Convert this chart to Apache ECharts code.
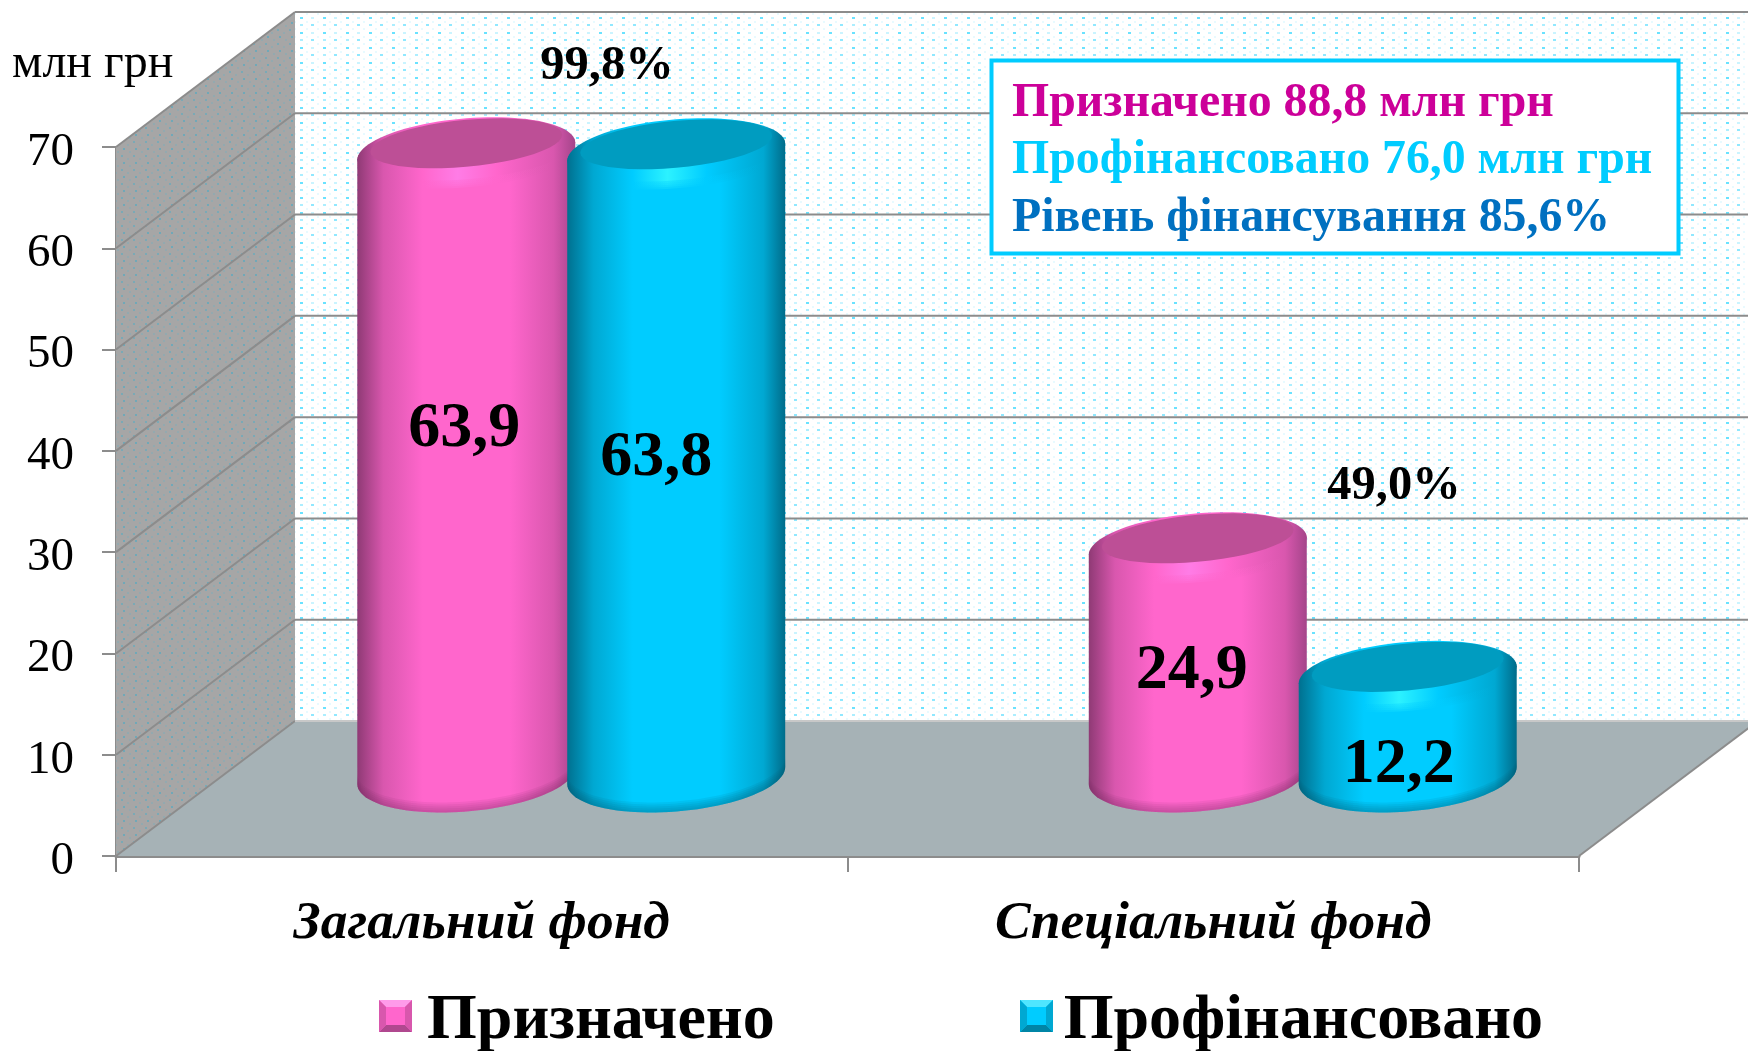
<!DOCTYPE html>
<html>
<head>
<meta charset="utf-8">
<style>
  html, body { margin: 0; padding: 0; background: #fff; }
  #chart { width: 1748px; height: 1051px; }
</style>
</head>
<body>
<div id="chart"></div>
<script src="https://cdn.jsdelivr.net/npm/echarts@6/dist/echarts.min.js"></script>
<script>
var categories = ['Загальний фонд', 'Спеціальний фонд'];
var seriesNames = ['Призначено', 'Профінансовано'];
var planned = [63.9, 24.9];
var funded = [63.8, 12.2];
var yTicks = [0, 10, 20, 30, 40, 50, 60, 70];
var percentLabels = ['99,8%', '49,0%'];
var summaryLines = ['Призначено 88,8 млн грн', 'Профінансовано 76,0 млн грн', 'Рівень фінансування 85,6%'];
var unitLabel = 'млн грн';

var SERIF = '"Liberation Serif", "Times New Roman", serif';
var DEPTH_X = 179;
var DEPTH_Y = 135;
var GRID_LINE = '#8c8c8c';

var pink = {
  main: '#ff66cc', lid: '#bd4f96', light: '#ff7ce6', edgeL: '#8f3a75', edgeR: '#a4458a', mid: '#d957ae', dark: '#7a2a63',
  bevelTop: '#ff9bea', bevelBottom: '#b0488f', bevelSide: '#d857ad'
};
var cyan = {
  main: '#00ccff', lid: '#009cc0', light: '#2cf2ff', edgeL: '#00708f', edgeR: '#006c8a', mid: '#00a8d2', dark: '#005a74',
  bevelTop: '#4fe6ff', bevelBottom: '#0085a6', bevelSide: '#00a8d2'
};

// nudges of the value labels, they were placed by hand in the original
var labelNudge = {
  planned: [[-2, -36], [-6, 8]],
  funded: [[-20, -8], [-9, 38]]
};

function dotPattern(w, h, dots) {
  var c = document.createElement('canvas');
  c.width = w;
  c.height = h;
  var ctx = c.getContext('2d');
  dots.forEach(function(d) {
    ctx.fillStyle = d[3];
    ctx.fillRect(d[0], d[1], d[2], 2);
  });
  return c;
}

var wallPattern = dotPattern(23, 15, [
  [1, 2, 3, '#6ae2ff'], [12, 2, 3, '#caf4ff'],
  [7, 6, 2, '#e8faff'], [18, 6, 2, '#e8faff'],
  [1, 9, 3, '#aceeff'], [12, 9, 3, '#90e8ff'],
  [7, 13, 2, '#e8faff'], [18, 13, 2, '#e8faff']
]);

var sidePattern = dotPattern(12, 14, [
  [1, 1, 2, '#7aa9b6'], [7, 4, 2, '#93a9af'], [3, 8, 2, '#70a8b8'], [9, 11, 2, '#93a9af']
]);

function arc(cx, cy, rx, ry, tilt, from, to) {
  var pts = [];
  for (var i = 0; i <= 48; i++) {
    var t = from + (to - from) * i / 48;
    pts.push([cx + rx * Math.cos(t), cy + ry * Math.sin(t) - tilt * Math.cos(t)]);
  }
  return pts;
}

function poly(points, style, z2) {
  return { type: 'polygon', shape: { points: points }, style: style, z2: z2 || 0, silent: true };
}

function sideGradient(p) {
  return new echarts.graphic.LinearGradient(0, 0, 1, 0, [
    { offset: 0, color: p.edgeL },
    { offset: 0.12, color: p.mid },
    { offset: 0.3, color: p.main },
    { offset: 0.7, color: p.main },
    { offset: 0.9, color: p.mid },
    { offset: 1, color: p.edgeR }
  ]);
}

function rimGradient(p) {
  return new echarts.graphic.LinearGradient(0, 0, 1, 0, [
    { offset: 0, color: p.edgeL },
    { offset: 0.12, color: p.mid },
    { offset: 0.3, color: p.main },
    { offset: 0.46, color: p.light },
    { offset: 0.64, color: p.main },
    { offset: 0.9, color: p.mid },
    { offset: 1, color: p.edgeR }
  ]);
}

function cylinderRenderer(p, side, nudges) {
  return function(params, api) {
    var idx = api.value(0);
    var val = api.value(1);
    var front = api.coord([idx, val]);
    var ground = api.coord([idx, 0]);
    var band = api.size([1, 0])[0];
    var rx = band * 0.149;
    var cx = ground[0] + DEPTH_X / 2 + side * band * 0.1435;
    var topY = front[1] - DEPTH_Y / 2 + 2;
    var baseY = ground[1] - DEPTH_Y / 2;
    var tilt = 8.5;
    var kids = [];

    var lower = arc(cx, baseY - 13, rx, 36, tilt, 0, Math.PI);
    kids.push(poly(arc(cx, topY + 8, rx, 33, tilt, Math.PI, Math.PI * 2).concat(lower), { fill: sideGradient(p) }));

    // darker rounded edge at the foot
    for (var b = 1; b <= 5; b++) {
      var inner = arc(cx, baseY - 13 - b * 2, rx, 36, tilt, 0, Math.PI).reverse();
      kids.push(poly(lower.concat(inner), { fill: p.dark, opacity: 0.09 }));
    }

    // soft rim under the lid
    for (var r = 4; r >= 0; r--) {
      kids.push(poly(arc(cx, topY + 8 + r * 2, rx, 28, tilt, 0, Math.PI * 2), {
        fill: rimGradient(p),
        opacity: r === 0 ? 1 : 0.25
      }));
    }
    kids.push(poly(arc(cx, topY, rx * 0.88, 23.5, tilt, 0, Math.PI * 2), { fill: p.lid }));

    kids.push({
      type: 'text',
      silent: true,
      z2: 5,
      style: {
        text: val.toFixed(1).replace('.', ','),
        x: cx + nudges[idx][0],
        y: (topY + baseY) / 2 + nudges[idx][1],
        fill: '#000',
        font: 'bold 64px ' + SERIF,
        textAlign: 'center',
        textVerticalAlign: 'middle'
      }
    });
    return { type: 'group', children: kids };
  };
}

function renderFrame(params, api) {
  var box = params.coordSys;
  var left = box.x;
  var right = box.x + box.width;
  var bottom = box.y + box.height;
  var y = api.coord([0, api.value(0)])[1];
  var kids = [];
  var lineStyle = { stroke: GRID_LINE, lineWidth: 2 };

  if (params.dataIndex === 0) {
    var top = box.y;
    kids.push(poly([[left + DEPTH_X, top - DEPTH_Y], [right + DEPTH_X, top - DEPTH_Y], [right + DEPTH_X, bottom - DEPTH_Y], [left + DEPTH_X, bottom - DEPTH_Y]],
      { fill: { image: wallPattern, repeat: 'repeat' } }));
    kids.push(poly([[left, top], [left + DEPTH_X, top - DEPTH_Y], [left + DEPTH_X, bottom - DEPTH_Y], [left, bottom]], { fill: '#a6a6a6' }));
    kids.push(poly([[left, top], [left + DEPTH_X, top - DEPTH_Y], [left + DEPTH_X, bottom - DEPTH_Y], [left, bottom]],
      { fill: { image: sidePattern, repeat: 'repeat' } }));
    kids.push(poly([[left, bottom], [left + DEPTH_X, bottom - DEPTH_Y], [right + DEPTH_X, bottom - DEPTH_Y], [right, bottom]], { fill: '#a6b2b6' }));
    kids.push({ type: 'line', silent: true, shape: { x1: right, y1: bottom, x2: right + DEPTH_X, y2: bottom - DEPTH_Y }, style: lineStyle });
  }

  kids.push({ type: 'line', silent: true, shape: { x1: left, y1: y, x2: left + DEPTH_X, y2: y - DEPTH_Y }, style: lineStyle });
  kids.push({
    type: 'line',
    silent: true,
    shape: { x1: left + DEPTH_X, y1: y - DEPTH_Y, x2: right + DEPTH_X, y2: y - DEPTH_Y },
    style: y === bottom ? { stroke: '#c8c8c8', lineWidth: 2 } : lineStyle
  });
  return { type: 'group', children: kids };
}

// the legend text sits lower than its key in the original, so the key is drawn here
function bevelMarker(x, y, w, h, p) {
  var d = 7;
  var items = [
    { pts: [[x, y], [x + w, y], [x + w, y + h], [x, y + h]], c: p.main },
    { pts: [[x, y], [x + w, y], [x + w - d, y + d], [x + d, y + d]], c: p.bevelTop },
    { pts: [[x, y + h], [x + w, y + h], [x + w - d, y + h - d], [x + d, y + h - d]], c: p.bevelBottom },
    { pts: [[x, y], [x + d, y + d], [x + d, y + h - d], [x, y + h]], c: p.bevelSide },
    { pts: [[x + w, y], [x + w - d, y + d], [x + w - d, y + h - d], [x + w, y + h]], c: p.bevelSide }
  ];
  return items.map(function(it) {
    return { type: 'polygon', z: 20, silent: true, shape: { points: it.pts }, style: { fill: it.c } };
  });
}

function plainText(text, x, y, font, fill, align) {
  return {
    type: 'text',
    z: 20,
    silent: true,
    style: { text: text, x: x, y: y, font: font, fill: fill || '#000', textAlign: align || 'center', textVerticalAlign: 'middle' }
  };
}

var summaryColors = ['#cc0099', '#00ccff', '#0070c0'];
var summaryRows = [104, 161, 219];

var graphics = [
  plainText(unitLabel, 12, 64, '48px ' + SERIF, '#000', 'left'),
  plainText(percentLabels[0], 607, 66, 'bold 48.5px ' + SERIF),
  plainText(percentLabels[1], 1394, 486, 'bold 48.5px ' + SERIF),
  {
    type: 'rect',
    z: 19,
    silent: true,
    shape: { x: 991.5, y: 60.5, width: 687, height: 193 },
    style: { fill: '#fff', stroke: '#00ccff', lineWidth: 4 }
  }
].concat(summaryLines.map(function(line, i) {
  return plainText(line, 1012, summaryRows[i], 'bold 47.8px ' + SERIF, summaryColors[i], 'left');
})).concat(bevelMarker(379, 1000, 33, 32, pink)).concat(bevelMarker(1020, 1000, 33, 32, cyan));

var option = {
  animation: false,
  backgroundColor: '#fff',
  grid: { left: 116, top: 147, width: 1463, height: 709, containLabel: false },
  legend: {
    left: 379,
    top: 984,
    itemWidth: 33,
    itemHeight: 32,
    itemGap: 246,
    selectedMode: false,
    icon: 'rect',
    itemStyle: { opacity: 0 },
    data: seriesNames,
    textStyle: { fontFamily: SERIF, fontWeight: 'bold', fontSize: 64, color: '#000', padding: [0, 0, 0, 5] }
  },
  xAxis: {
    type: 'category',
    data: categories,
    axisLine: { lineStyle: { color: GRID_LINE, width: 3 } },
    axisTick: { show: true, length: 16, lineStyle: { color: GRID_LINE, width: 2 } },
    axisLabel: {
      margin: 42,
      color: '#000',
      fontFamily: SERIF,
      fontWeight: 'bold',
      fontStyle: 'italic',
      fontSize: 53.5
    }
  },
  yAxis: {
    type: 'value',
    min: yTicks[0],
    max: yTicks[yTicks.length - 1],
    interval: 10,
    splitLine: { show: false },
    axisLine: { show: true, lineStyle: { color: GRID_LINE, width: 2 } },
    axisTick: { show: true, length: 14, lineStyle: { color: GRID_LINE, width: 2 } },
    axisLabel: {
      margin: 42,
      formatter: '{v|{value}}',
      rich: {
        v: { color: '#000', fontFamily: SERIF, fontSize: 47, padding: [11, 0, 0, 0] }
      }
    }
  },
  graphic: graphics,
  series: [
    {
      name: 'frame',
      type: 'custom',
      z: 1,
      silent: true,
      coordinateSystem: 'cartesian2d',
      encode: { y: 0 },
      data: yTicks.map(function(v) { return [v]; }),
      renderItem: renderFrame
    },
    {
      name: seriesNames[0],
      type: 'custom',
      z: 3,
      silent: true,
      itemStyle: { color: pink.main },
      encode: { x: 0, y: 1 },
      data: planned.map(function(v, i) { return [i, v]; }),
      renderItem: cylinderRenderer(pink, -1, labelNudge.planned)
    },
    {
      name: seriesNames[1],
      type: 'custom',
      z: 4,
      silent: true,
      itemStyle: { color: cyan.main },
      encode: { x: 0, y: 1 },
      data: funded.map(function(v, i) { return [i, v]; }),
      renderItem: cylinderRenderer(cyan, 1, labelNudge.funded)
    }
  ]
};

var chart = echarts.init(document.getElementById('chart'));
chart.setOption(option);
window.addEventListener('resize', function() {
  chart.resize();
});
</script>
</body>
</html>
